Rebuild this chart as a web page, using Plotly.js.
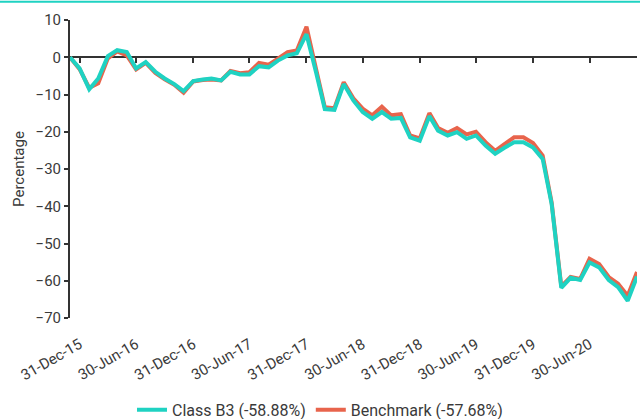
<!DOCTYPE html>
<html>
<head>
<meta charset="utf-8">
<script src="https://cdn.plot.ly/plotly-3.0.1.min.js"></script>
<style>
  html, body { margin: 0; padding: 0; background: #fff; }
  #chart { width: 640px; height: 419px; }
</style>
</head>
<body>
<div id="chart"></div>
<script>
const dates = [
  '2015-11-30','2015-12-31',
  '2016-01-31','2016-02-29','2016-03-31','2016-04-30','2016-05-31','2016-06-30',
  '2016-07-31','2016-08-31','2016-09-30','2016-10-31','2016-11-30','2016-12-31',
  '2017-01-31','2017-02-28','2017-03-31','2017-04-30','2017-05-31','2017-06-30',
  '2017-07-31','2017-08-31','2017-09-30','2017-10-31','2017-11-30','2017-12-31',
  '2018-01-31','2018-02-28','2018-03-31','2018-04-30','2018-05-31','2018-06-30',
  '2018-07-31','2018-08-31','2018-09-30','2018-10-31','2018-11-30','2018-12-31',
  '2019-01-31','2019-02-28','2019-03-31','2019-04-30','2019-05-31','2019-06-30',
  '2019-07-31','2019-08-31','2019-09-30','2019-10-31','2019-11-30','2019-12-31',
  '2020-01-31','2020-02-29','2020-03-31','2020-04-30','2020-05-31','2020-06-30',
  '2020-07-31','2020-08-31','2020-09-30','2020-10-31','2020-11-30'
];

const classB3 = [
  0, -3.0,
  -8.6, -5.7, 0.3, 1.9, 1.4, -3.0,
  -1.3, -3.9, -5.7, -7.2, -9.1, -6.4,
  -6.0, -5.7, -6.2, -3.9, -4.6, -4.6,
  -2.4, -2.7, -0.9, 0.5, 1.1, 6.2,
  -4.1, -13.9, -14.1, -7.2, -11.6, -14.7,
  -16.5, -14.7, -16.5, -16.3, -21.5, -22.4,
  -15.8, -19.7, -21.0, -20.1, -21.9, -21.0,
  -23.7, -25.9, -24.3, -22.8, -22.8, -24.2,
  -27.3, -39.4, -61.9, -59.2, -59.8, -55.1,
  -56.4, -59.8, -61.7, -65.4, -58.88
];

const benchmark = [
  0, -3.2,
  -8.2, -7.0, -0.3, 1.6, 0.5, -3.3,
  -1.5, -4.2, -5.9, -7.4, -9.5, -6.5,
  -6.1, -6.0, -6.2, -3.7, -4.3, -4.0,
  -1.5, -2.0, -0.4, 1.4, 1.8, 8.2,
  -3.2, -13.4, -13.7, -6.7, -11.0, -13.8,
  -15.6, -13.3, -15.6, -15.3, -21.0, -21.8,
  -15.0, -19.0, -20.3, -19.0, -20.7, -20.0,
  -22.8, -25.1, -23.3, -21.5, -21.5, -23.0,
  -26.4, -39.0, -61.5, -59.0, -59.5, -54.1,
  -55.5, -59.0, -60.8, -64.0, -57.68
];

const tickDates = ['2015-12-31','2016-06-30','2016-12-31','2017-06-30','2017-12-31',
                   '2018-06-30','2018-12-31','2019-06-30','2019-12-31','2020-06-30'];
const tickLabels = ['31-Dec-15','30-Jun-16','31-Dec-16','30-Jun-17','31-Dec-17',
                    '30-Jun-18','31-Dec-18','30-Jun-19','31-Dec-19','30-Jun-20'];

const seriesNames = ['Class B3 (-58.88%)', 'Benchmark (-57.68%)'];

const TEAL = '#1fd2c2';
const RED = '#e8644c';
const AXIS = '#333333';
const TEXT = '#3a3a3a';
const xRange = [dates[0], dates[dates.length - 1]];

const traces = [
  {
    x: dates, y: classB3, name: seriesNames[0], type: 'scatter', mode: 'lines',
    xaxis: 'x2', yaxis: 'y',
    line: { color: TEAL, width: 4 }, hoverinfo: 'x+y'
  },
  {
    x: dates, y: benchmark, name: seriesNames[1], type: 'scatter', mode: 'lines',
    xaxis: 'x', yaxis: 'y',
    line: { color: RED, width: 4 }, hoverinfo: 'x+y'
  }
];

const layout = {
  width: 640, height: 419,
  margin: { l: 70, r: 3, t: 20, b: 101 },
  paper_bgcolor: '#ffffff', plot_bgcolor: '#ffffff',
  font: { family: 'Roboto, Arial, sans-serif', size: 15, color: TEXT },
  showlegend: true,
  legend: {
    orientation: 'h', xref: 'container', yref: 'container',
    x: 0.5, xanchor: 'center', y: 0.022, yanchor: 'middle',
    font: { size: 16, color: TEXT }
  },
  xaxis: {
    type: 'date', range: xRange,
    showgrid: false, zeroline: false, showline: false,
    ticks: '', tickvals: tickDates, ticktext: tickLabels,
    tickangle: -30, ticklabelstandoff: 14, tickfont: { size: 15, color: TEXT }
  },
  xaxis2: {
    type: 'date', range: xRange, overlaying: 'x', anchor: 'free', position: 0.875,
    showgrid: false, zeroline: false, showline: true, linecolor: AXIS, linewidth: 2,
    ticks: 'outside', ticklen: 5, tickwidth: 2, tickcolor: AXIS,
    tickvals: tickDates, showticklabels: false, layer: 'below traces'
  },
  yaxis: {
    range: [-70, 10], dtick: 10, tick0: 0,
    showgrid: false, zeroline: false, showline: true, linecolor: AXIS, linewidth: 2,
    ticks: 'outside', ticklen: 4, tickwidth: 2, tickcolor: AXIS,
    tickfont: { size: 15, color: TEXT },
    title: { text: 'Percentage', font: { size: 15, color: TEXT }, standoff: 7 }
  },
  shapes: [
    { type: 'line', xref: 'paper', yref: 'paper',
      x0: -0.125, x1: 1.006, y0: 1.061, y1: 1.061,
      line: { color: TEAL, width: 2 } }
  ]
};

Plotly.newPlot('chart', traces, layout, { displayModeBar: false, staticPlot: true });
</script>
</body>
</html>
